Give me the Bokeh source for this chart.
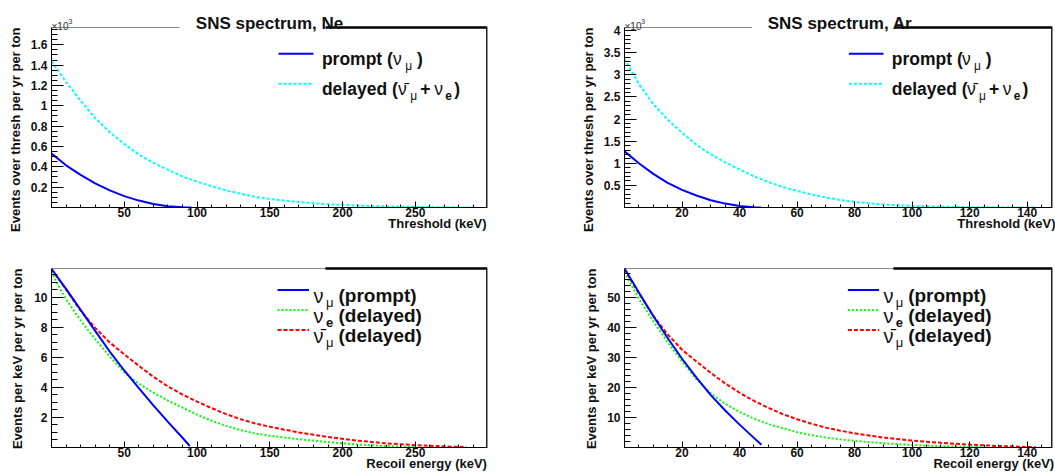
from bokeh.plotting import figure
from bokeh.layouts import gridplot
from bokeh.models import SingleIntervalTicker, CustomJSTickFormatter, Label, Range1d, Title
from bokeh.embed import file_html
from bokeh.resources import INLINE

# ---------------- data ----------------
# Ne, events over threshold per yr per ton
ne_thr_prompt_x = [0, 10, 20, 30, 40, 50, 60, 70, 80, 90, 96]
ne_thr_prompt_y = [530, 415, 320, 238, 168, 112, 68, 35, 13, 2, 0]
ne_thr_delayed_x = [0, 10, 20, 30, 40, 50, 60, 70, 80, 90, 100, 110, 120, 130, 140, 150,
                    160, 175, 190, 200, 220, 240, 260, 275, 290]
ne_thr_delayed_y = [1440, 1235, 1050, 880, 740, 625, 520, 440, 370, 305, 255, 210, 168, 136,
                    104, 84, 68, 48, 32, 25, 14, 8, 4, 2, 0]

# Ar, events over threshold per yr per ton
ar_thr_prompt_x = [0, 5, 10, 15, 20, 25, 30, 35, 40, 45, 47.5]
ar_thr_prompt_y = [1270, 1000, 760, 555, 400, 272, 165, 88, 35, 7, 0]
ar_thr_delayed_x = [0, 5, 10, 15, 20, 25, 30, 35, 40, 45, 50, 55, 60, 65, 70, 75, 80, 90,
                    100, 110, 120, 130, 143]
ar_thr_delayed_y = [3360, 2790, 2340, 1985, 1690, 1420, 1200, 1020, 860, 705, 575, 465, 375,
                    295, 225, 170, 125, 68, 35, 17, 7, 3, 0]

# Ne, events per keV per yr per ton
ne_rec_numu_x = [0, 10, 20, 30, 40, 50, 60, 70, 80, 90, 95]
ne_rec_numu_y = [11.88, 10.55, 9.15, 7.75, 6.38, 5.12, 3.95, 2.8, 1.7, 0.65, 0.1]
ne_rec_nue_x = [0, 5, 10, 20, 30, 40, 50, 55, 60, 70, 80, 90, 100, 110, 120, 130, 140, 150,
                170, 190, 210, 230, 250]
ne_rec_nue_y = [11.7, 10.7, 9.85, 8.45, 7.2, 6.05, 5.0, 4.6, 4.25, 3.65, 3.12, 2.65, 2.18, 1.78,
                1.44, 1.15, 0.93, 0.78, 0.55, 0.36, 0.2, 0.1, 0.03]
ne_rec_numubar_x = [0, 10, 20, 30, 40, 50, 60, 70, 80, 90, 100, 110, 120, 130, 140, 150, 170,
                    190, 210, 230, 250, 270, 285]
ne_rec_numubar_y = [11.85, 10.5, 9.1, 7.95, 6.98, 6.2, 5.43, 4.7, 4.06, 3.52, 3.05, 2.62, 2.22,
                    1.88, 1.6, 1.38, 1.0, 0.7, 0.46, 0.28, 0.15, 0.07, 0.03]

# Ar, events per keV per yr per ton
ar_rec_numu_x = [0, 5, 10, 15, 20, 25, 30, 35, 40, 45, 47.6]
ar_rec_numu_y = [59.5, 51.5, 43.7, 36.4, 29.5, 23.2, 17.4, 12.3, 7.6, 3.2, 0.9]
ar_rec_nue_x = [0, 5, 10, 15, 20, 25, 30, 35, 40, 45, 50, 55, 60, 65, 70, 75, 80, 90, 100,
                110, 120, 125]
ar_rec_nue_y = [58.3, 49.4, 42.0, 35.0, 28.6, 22.7, 18.0, 14.5, 11.8, 9.6, 7.8, 6.4, 5.1, 4.1,
                3.3, 2.7, 2.2, 1.4, 0.85, 0.45, 0.2, 0.1]
ar_rec_numubar_x = [0, 5, 10, 15, 20, 25, 30, 35, 40, 45, 50, 55, 60, 65, 70, 75, 80, 90, 100,
                    110, 120, 130, 143]
ar_rec_numubar_y = [59.3, 51.2, 43.8, 37.6, 32.5, 28.6, 24.8, 21.3, 18.2, 15.5, 13.2, 11.1, 9.4,
                    7.9, 6.6, 5.6, 4.7, 3.3, 2.3, 1.55, 0.95, 0.5, 0.1]

titles = ["SNS spectrum, Ne", "SNS spectrum, Ar"]
x_titles = ["Threshold (keV)", "Recoil energy (keV)"]
y_titles = ["Events over thresh per yr per ton", "Events per keV per yr per ton"]

# ---------------- styling / layout ----------------
FONT = "Liberation Sans"
BLUE, CYAN, GREEN, RED = "#0000ff", "#00ffff", "#00ff00", "#ff0000"
INK = "#111111"
FRAME_GRAY = "#8a8a8a"
XLAB_PX = 13

# advance widths (1/1000 em) of Liberation Sans Bold, for right-aligning the x titles
BOLD_W = {"T": 611, "h": 611, "r": 389, "e": 556, "s": 556, "o": 611, "l": 278, "d": 611,
          " ": 278, "(": 333, "k": 556, "V": 667, ")": 333, "R": 722, "c": 556, "i": 278,
          "n": 611, "g": 611, "y": 556}

# page-pixel geometry of the four visible (ROOT) frames, and page top of each figure
FR = {
    "tl": (51, 487, 27, 207, 0), "tr": (619, 1052, 27, 207, 0),
    "bl": (51, 487, 268, 447, 237), "br": (619, 1052, 268, 447, 237),
}


def right_aligned(text, frame_w):
    # centred axis label padded with leading no-break spaces so that it ends at the
    # right end of the axis, as ROOT draws it
    tw = sum(BOLD_W.get(ch, 556) for ch in text) * XLAB_PX / 1000
    n = max(0, round((frame_w - tw) / (278 * XLAB_PX / 1000)))
    return "\u00a0" * n + text


def formatter(scale):
    return CustomJSTickFormatter(args=dict(s=scale), code="""
        if (Math.abs(tick) < 1e-9) return "";
        return String(parseFloat((tick / s).toFixed(4)));
    """)


def make_panel(key, width, height, bl, br, bb, xr, yr, xint, xminor, yint, yminor,
               yscale, xlabel, ylabel, ylab_standoff, title_gap=None):
    fx0, fx1, fy0, fy1, ftop = FR[key]
    # the Bokeh frame reaches the top of the figure so that the title fits inside it;
    # the y axis itself is bounded to the data range like the ROOT frame
    ytop = yr[1] + (fy0 - ftop) / (fy1 - fy0) * (yr[1] - yr[0])
    p = figure(width=width, height=height, x_range=Range1d(*xr), y_range=Range1d(yr[0], ytop),
               output_backend="svg", toolbar_location=None, tools="",
               min_border_left=bl, min_border_right=br, min_border_top=0,
               min_border_bottom=bb)
    p.xgrid.visible = False
    p.ygrid.visible = False
    p.background_fill_color = "white"
    p.border_fill_color = "white"
    p.outline_line_color = None
    p.yaxis.bounds = yr
    p.xaxis.ticker = SingleIntervalTicker(interval=xint, num_minor_ticks=xminor)
    p.yaxis.ticker = SingleIntervalTicker(interval=yint, num_minor_ticks=yminor)
    p.xaxis.formatter = formatter(1)
    p.yaxis.formatter = formatter(yscale)
    for ax in (p.xaxis[0], p.yaxis[0]):
        ax.axis_line_color = "black"
        ax.major_tick_line_color = "black"
        ax.minor_tick_line_color = "black"
        ax.major_tick_out = 0
        ax.minor_tick_out = 0
        ax.major_label_text_font = FONT
        ax.major_label_text_font_style = "bold"
        ax.major_label_text_font_size = "12px"
        ax.major_label_text_color = INK
        ax.axis_label_text_font = FONT
        ax.axis_label_text_font_style = "bold"
        ax.axis_label_text_font_size = f"{XLAB_PX}px"
        ax.axis_label_text_color = INK
    p.yaxis.major_tick_in = 12
    p.yaxis.minor_tick_in = 6
    p.xaxis.major_tick_in = 6
    p.xaxis.minor_tick_in = 3
    p.yaxis.major_label_standoff = 4
    p.xaxis.major_label_standoff = 0
    p.xaxis.axis_label_standoff = -4
    p.xaxis.axis_label = right_aligned(xlabel, fx1 - fx0)
    # y title: top-aligned with the visible frame, like ROOT
    p.add_layout(Title(text=ylabel, align="right", offset=(fy0 - ftop),
                       standoff=ylab_standoff, text_font=FONT, text_font_style="bold",
                       text_font_size="13px", text_color=INK), "left")

    def m(px, py):
        return (xr[0] + (px - fx0) / (fx1 - fx0) * (xr[1] - xr[0]),
                yr[1] - (py - fy0) / (fy1 - fy0) * (yr[1] - yr[0]))

    # ROOT-like frame: grey top line (gap under the title), dark upper-right part
    top = yr[1]
    split = m(fx0 + 0.628 * (fx1 - fx0), fy0)[0]
    if title_gap:
        g0 = m(title_gap[0], fy0)[0]
        g1 = m(title_gap[1], fy0)[0]
        grey_parts = [(xr[0], g0)]
        if g1 < split:
            grey_parts.append((g1, split))
        dark_start = max(split, g1)
    else:
        grey_parts = [(xr[0], split)]
        dark_start = split
    for a, b in grey_parts:
        p.line([a, b], [top, top], line_color=FRAME_GRAY, line_width=1)
    p.line([dark_start, xr[1]], [top, top], line_color="black", line_width=2.5)
    p.line([xr[1], xr[1]], [yr[0], top], line_color="#222222", line_width=3)
    return p, m


def label(p, m, px, py, text, size, bold=True, align="left", baseline="alphabetic",
          font=FONT, color=INK):
    x, y = m(px, py)
    p.add_layout(Label(x=x, y=y, text=text, text_font=font,
                       text_font_style="bold" if bold else "normal",
                       text_font_size=f"{size}px", text_align=align,
                       text_baseline=baseline, text_color=color))


def rich(p, m, px, py, pieces):
    # pieces: (text, x offset px, baseline drop px, size, bold)
    for t, dx, dy, size, bold in pieces:
        label(p, m, px + dx, py + dy, t, size, bold)


def legend_line(p, m, px0, px1, py, color, dash, width=2):
    x0, y0 = m(px0, py)
    x1, _ = m(px1, py)
    p.line([x0, x1], [y0, y0], line_color=color, line_dash=dash, line_width=width)


NU, NUBAR, MU = "\u03bd", "\u03bd\u0304", "\u03bc"

# ---------------- top-left: Ne threshold ----------------
tl, mtl = make_panel("tl", 574, 237, 51, 87, 30, (0, 299.6), (0, 1770), 50, 5, 200, 4,
                     1000, x_titles[0], y_titles[0], 10, title_gap=(179, 325))
tl.line(ne_thr_delayed_x, ne_thr_delayed_y, line_color=CYAN, line_width=2, line_dash="3 2")
tl.line(ne_thr_prompt_x, ne_thr_prompt_y, line_color=BLUE, line_width=2)

# ---------------- top-right: Ar threshold ----------------
tr, mtr = make_panel("tr", 481, 237, 45, 3, 30, (0, 148.8), (0, 4070), 20, 4, 500, 5,
                     1000, x_titles[0], y_titles[0], 9, title_gap=(748, 893))
tr.line(ar_thr_delayed_x, ar_thr_delayed_y, line_color=CYAN, line_width=2, line_dash="3 2")
tr.line(ar_thr_prompt_x, ar_thr_prompt_y, line_color=BLUE, line_width=2)

# ---------------- bottom-left: Ne recoil ----------------
bl, mbl = make_panel("bl", 574, 236, 51, 87, 26, (0, 299.6), (0, 11.9), 50, 5, 2, 4,
                     1, x_titles[1], y_titles[1], 14)
bl.line(ne_rec_numubar_x, ne_rec_numubar_y, line_color=RED, line_width=2, line_dash="4 2")
bl.line(ne_rec_nue_x, ne_rec_nue_y, line_color=GREEN, line_width=2, line_dash="2 2")
bl.line(ne_rec_numu_x, ne_rec_numu_y, line_color=BLUE, line_width=2)

# ---------------- bottom-right: Ar recoil ----------------
br, mbr = make_panel("br", 481, 236, 45, 3, 26, (0, 148.8), (0, 59.5), 20, 4, 10, 5,
                     1, x_titles[1], y_titles[1], 12)
br.line(ar_rec_numubar_x, ar_rec_numubar_y, line_color=RED, line_width=2, line_dash="4 2")
br.line(ar_rec_nue_x, ar_rec_nue_y, line_color=GREEN, line_width=2, line_dash="2 2")
br.line(ar_rec_numu_x, ar_rec_numu_y, line_color=BLUE, line_width=2)

# ---------------- titles, x10^3, legends ----------------
for p, m, key, title in ((tl, mtl, "tl", titles[0]), (tr, mtr, "tr", titles[1])):
    fx0, fx1, fy0, fy1, _ = FR[key]
    label(p, m, fx0 + 218, 22.7, title, 17, align="center")
    label(p, m, fx0, 25.5, "\u00d710", 10, bold=False, color="#333333")
    label(p, m, fx0 + 17, 21, "3", 7, bold=False, color="#333333")
    tx = fx0 + 270.4
    legend_line(p, m, fx0 + 227, fx0 + 262, 53.3, BLUE, "solid")
    legend_line(p, m, fx0 + 227, fx0 + 262, 83.3, CYAN, "3 2")
    rich(p, m, tx, 58.3, [("prompt (", 0, 0, 17.5, True), (NU, 71, 0, 17.5, False),
                          (MU, 83.3, 7, 12, False), (")", 95, 0, 17.5, True)])
    rich(p, m, tx, 88.3, [("delayed (", 0, 0, 17.5, True), (NUBAR, 76, 0, 17.5, False),
                          (MU, 88.3, 7, 12, False), ("+", 98.3, 0, 17.5, True),
                          (NU, 112.3, 0, 17.5, False), ("e", 123.3, 7, 12, True),
                          (")", 132.3, 0, 17.5, True)])

for p, m, key in ((bl, mbl, "bl"), (br, mbr, "br")):
    fx0, fx1, fy0, fy1, _ = FR[key]
    tx = fx0 + 262
    rows = [(289.5, BLUE, "solid", NU, MU, False, "(prompt)"),
            (309.4, GREEN, "2 2", NU, "e", True, "(delayed)"),
            (329.4, RED, "4 2", NUBAR, MU, False, "(delayed)")]
    for ly, col, dash, base, sub, subbold, word in rows:
        legend_line(p, m, fx0 + 226, fx0 + 257.5, ly, col, dash)
        rich(p, m, tx, ly + 5.8, [(base, 0, 0, 20, False), (sub, 12.5, 7, 13, subbold),
                                  (word, 25, 0, 19, True)])

grid = gridplot([[tl, tr], [bl, br]], toolbar_location=None)
open("out.html", "w").write(file_html(grid, INLINE))
